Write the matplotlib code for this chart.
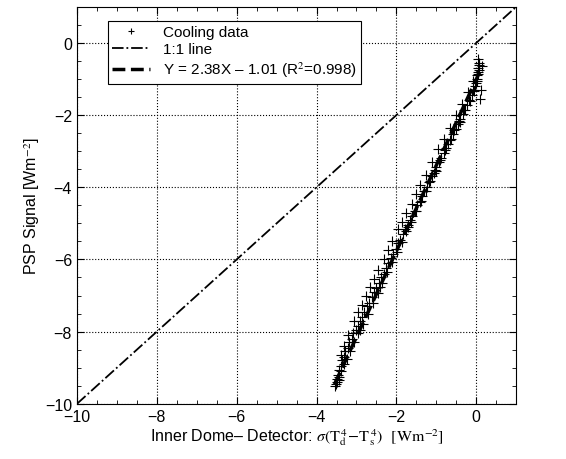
import numpy as np
import matplotlib.pyplot as plt
from matplotlib.ticker import MultipleLocator

plt.rcParams['font.family'] = ['Liberation Sans', 'DejaVu Sans']
plt.rcParams['mathtext.fontset'] = 'stix'

# cooling data (main band)
band_x = [-3.52, -3.50, -3.47, -3.45, -3.40, -3.36, -3.32, -3.28, -3.22, -3.18,
          -3.12, -3.08, -3.02, -2.97, -2.92, -2.86, -2.80, -2.74, -2.68, -2.62,
          -2.56, -2.50, -2.44, -2.38, -2.32, -2.26, -2.20, -2.14, -2.08, -2.02,
          -1.96, -1.90, -1.84, -1.78, -1.72, -1.66, -1.60, -1.54, -1.48, -1.42,
          -1.36, -1.30, -1.24, -1.18, -1.12, -1.06, -1.00, -0.94, -0.88, -0.82,
          -0.76, -0.70, -0.64, -0.58, -0.52, -0.46, -0.40, -0.34, -0.28, -0.22,
          -0.16, -0.10, -0.05, -0.02, 0.00, 0.02, 0.03, 0.04, 0.05, 0.06]
band_y = [-9.45, -9.30, -9.20, -9.05, -8.95, -8.80, -8.70, -8.55, -8.45, -8.30,
          -8.20, -8.05, -7.95, -7.85, -7.70, -7.60, -7.45, -7.30, -7.20, -7.05,
          -6.90, -6.80, -6.65, -6.50, -6.40, -6.25, -6.10, -5.95, -5.85, -5.70,
          -5.55, -5.45, -5.30, -5.15, -5.05, -4.90, -4.80, -4.65, -4.50, -4.40,
          -4.25, -4.10, -4.00, -3.85, -3.70, -3.60, -3.45, -3.30, -3.20, -3.05,
          -2.92, -2.80, -2.65, -2.52, -2.38, -2.25, -2.12, -1.98, -1.85, -1.72,
          -1.60, -1.45, -1.32, -1.20, -1.10, -1.00, -0.90, -0.80, -0.70, -0.62]
# second pass, slightly lower edge of the band
lower_x = [-3.53, -3.49, -3.43, -3.38, -3.30, -3.24, -3.15, -3.05, -2.95, -2.83,
           -2.71, -2.59, -2.47, -2.35, -2.23, -2.11, -1.99, -1.87, -1.75, -1.63,
           -1.51, -1.39, -1.27, -1.15, -1.03, -0.91, -0.79, -0.67, -0.55, -0.43,
           -0.31, -0.19, -0.08, 0.01, 0.04, 0.06]
lower_y = [-9.50, -9.40, -9.25, -9.10, -8.90, -8.75, -8.55, -8.30, -8.05, -7.78,
           -7.50, -7.22, -6.92, -6.65, -6.35, -6.08, -5.80, -5.52, -5.22, -4.95,
           -4.65, -4.38, -4.10, -3.82, -3.52, -3.25, -2.97, -2.70, -2.42, -2.15,
           -1.87, -1.58, -1.30, -1.05, -0.85, -0.75]
# scattered points above / beside the band
spread_x = [-3.40, -3.30, -3.20, -3.05, -2.95, -2.85, -2.75, -2.65, -2.55, -2.45,
            -2.30, -2.20, -2.10, -1.95, -1.85, -1.75, -1.62, -1.50, -1.40, -1.25,
            -1.10, -0.95, -0.80, -0.65, -0.50, -0.35, -0.20, -0.08,
            -3.45, -2.90, -2.40, -1.70, -1.00, -0.40, 0.08, 0.15, 0.12, 0.10, 0.05]
spread_y = [-8.65, -8.40, -8.10, -7.70, -7.45, -7.25, -7.00, -6.75, -6.55, -6.30,
            -6.00, -5.75, -5.50, -5.15, -4.95, -4.70, -4.45, -4.20, -3.95, -3.65,
            -3.30, -2.95, -2.65, -2.35, -2.00, -1.70, -1.35, -1.05,
            -9.35, -7.95, -6.75, -5.10, -3.55, -2.20, -0.55, -0.65, -1.30, -1.55, -0.45]

slope, intercept = 2.38, -1.01
fit_range = [-3.55, 0.08]
one_to_one = [-10, 1]

fig = plt.figure(figsize=(5.66, 4.6), dpi=100)
ax = fig.add_axes([0.136, 0.12, 0.776, 0.863])

ax.plot(band_x + lower_x + spread_x, band_y + lower_y + spread_y, '+', color='k',
        ms=7, mew=0.8, label='Cooling data')
ax.plot(one_to_one, one_to_one, color='k', ls='-.', lw=1.3, label='1:1 line')
fx = np.array(fit_range)
ax.plot(fx, slope * fx + intercept, color='k', ls='--', lw=2.5,
        label='Y = 2.38X \u2013 1.01 (R$^2$=0.998)')

ax.set_xlim(-10, 1)
ax.set_ylim(-10, 1)
ax.xaxis.set_major_locator(MultipleLocator(2))
ax.yaxis.set_major_locator(MultipleLocator(2))
ax.xaxis.set_minor_locator(MultipleLocator(0.5))
ax.yaxis.set_minor_locator(MultipleLocator(0.5))
ax.tick_params(which='both', direction='in', top=True, right=True, labelsize=11.5)
ax.tick_params(which='major', length=5)
ax.tick_params(which='minor', length=3)
ax.grid(True, which='major', ls=':', color='k', lw=0.8)

ax.set_xlabel('Inner Dome\u2013 Detector: $\\sigma(\\mathrm{T_d^{\\,4}}\\!-\\!\\mathrm{T_s^{\\,4}})$  $[\\mathrm{Wm^{-2}}]$',
              fontsize=11.5, labelpad=2)
ax.set_ylabel('PSP Signal [Wm$^{-2}$]', fontsize=11.5, labelpad=2)

leg = ax.legend(loc='upper left', bbox_to_anchor=(0.07, 0.965), fontsize=11,
                fancybox=False, framealpha=1, edgecolor='k', borderpad=0.3,
                handlelength=2.5, labelspacing=0.2, borderaxespad=0,
                markerscale=0.6)
leg.get_frame().set_linewidth(0.8)

fig.savefig('out.png', dpi=100)
